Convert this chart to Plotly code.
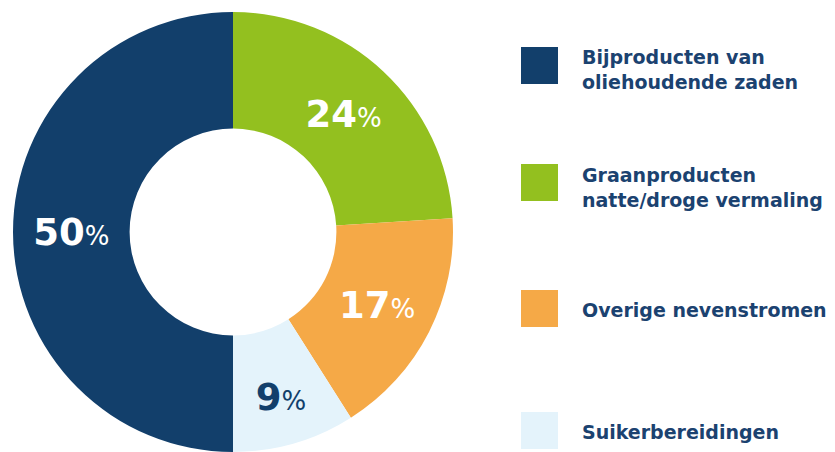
import plotly.graph_objects as go

# Data
categories = [
    "Bijproducten van<br>oliehoudende zaden",
    "Graanproducten<br>natte/droge vermaling",
    "Overige nevenstromen",
    "Suikerbereidingen",
]
shares = [50, 24, 17, 9]
colors = ["#123F6B", "#93C01F", "#F5A947", "#E4F3FB"]
label_colors = ["#FFFFFF", "#FFFFFF", "#FFFFFF", "#123F6B"]

W, H = 835, 452
NAVY_TEXT = "#1B4270"
FONT = "DejaVu Sans"

fig = go.Figure()
fig.add_trace(go.Pie(
    labels=categories,
    values=shares,
    sort=False,
    direction="clockwise",
    rotation=180,
    hole=0.47,
    marker=dict(colors=colors, line=dict(width=0)),
    texttemplate="<b>%{value}</b><span style='font-size:26px;font-weight:normal'>%</span>",
    textposition="inside",
    insidetextorientation="horizontal",
    textfont=dict(family=FONT, size=37, color=label_colors),
    domain=dict(x=[11 / W, 455 / W], y=[0, 1 - 12 / H]),
    showlegend=False,
    hoverinfo="label+percent",
))

def px_x(v):
    return v / W

def px_y(v):
    return 1 - v / H

sq_left, sq_size = 521, 37
sq_tops = [47, 164, 290, 412]
text_offsets = [4, 5, 1, 1]
for cat, col, top, off in zip(categories, colors, sq_tops, text_offsets):
    fig.add_shape(type="rect", xref="paper", yref="paper",
                  x0=px_x(sq_left), x1=px_x(sq_left + sq_size),
                  y0=px_y(top + sq_size), y1=px_y(top),
                  fillcolor=col, line=dict(width=0))
    fig.add_annotation(xref="paper", yref="paper",
                       x=px_x(580), y=px_y(top + sq_size / 2 + off),
                       xanchor="left", yanchor="middle", align="left",
                       text="<b>" + cat + "</b>", showarrow=False,
                       font=dict(family=FONT, size=19, color=NAVY_TEXT))

fig.update_layout(
    width=W, height=H,
    margin=dict(l=0, r=0, t=0, b=0),
    paper_bgcolor="white", plot_bgcolor="white",
    uniformtext=dict(minsize=30, mode="show"),
)

fig.write_html("out.html", config={"displayModeBar": False},
               post_script="document.body.style.margin='0';")
